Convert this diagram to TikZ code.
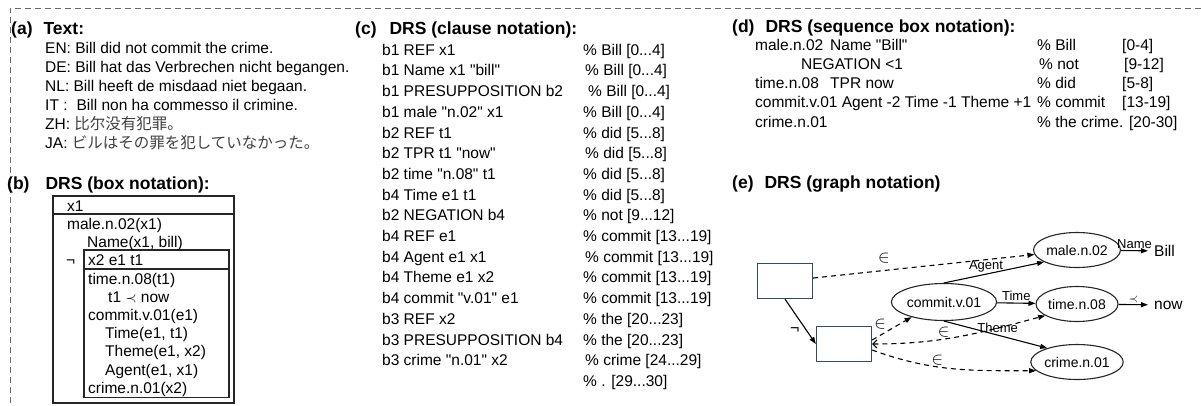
\documentclass[tikz,border=0pt]{standalone}
\usepackage{fontspec}
\setmainfont{Liberation Sans}[Ligatures=TeXOff]
\newfontfamily\zhfont{Noto Sans CJK SC}
\newfontfamily\jafont{Noto Sans CJK JP}
\usetikzlibrary{positioning,arrows.meta,shapes.geometric}
\definecolor{boxblue}{HTML}{2F4A6B}
\definecolor{framegray}{HTML}{6A6A6A}

\begin{document}
\begin{tikzpicture}[x=1pt, y=-1pt,
  head/.style={font=\fontsize{17.5}{20}\selectfont\bfseries, anchor=base west, inner sep=0pt},
  % multi-line text blocks: placed at the baseline of their first line (first line starts with \strut)
  body/.style={font=\fontsize{15.5}{#1}\selectfont, anchor=north west, yshift=0.7*#1pt,
               align=left, inner sep=0pt},
  boxline/.style={line width=1.1pt, black!85},
  frame/.style={dash pattern=on 6pt off 4pt, line width=0.9pt, framegray},
  drsbox/.style={draw=boxblue, line width=1.3pt, minimum width=55pt, minimum height=35pt, inner sep=0pt},
  concept/.style={draw=black!85, ellipse, line width=1.1pt, minimum width=82pt,
                  minimum height=35pt, inner sep=0pt, font=\fontsize{14}{16}\selectfont},
  rel/.style={-{Triangle[length=7pt,width=5pt]}, line width=1.1pt},
  member/.style={rel, dash pattern=on 5pt off 4pt},
  lab/.style={font=\fontsize{13}{15}\selectfont, inner sep=1.5pt},
  elem/.style={font=\fontsize{16}{18}\selectfont, inner sep=1.5pt}
]
  \useasboundingbox (0,0) rectangle (1201,405);

  % --- outer dashed frame (top and left only) ---
  \draw[frame] (1201,8) -- (10,8) -- (10,405);

  % === (a) text in six languages ===
  \node[head] (titleA) at (11,34) {(a)\hspace{11pt}Text:};
  \node[body=19] (textA) at (45,53)
    {\strut EN: Bill did not commit the crime.\\
     DE: Bill hat das Verbrechen nicht begangen.\\
     NL: Bill heeft de misdaad niet begaan.\\
     IT :\hspace{9pt}Bill non ha commesso il crimine.\\
     ZH: {\zhfont\color{black!75}比尔没有犯罪。}\\
     JA: {\jafont\color{black!75}ビルはその罪を犯していなかった。}};

  % === (b) box notation ===
  \node[head] (titleB) at (7,189) {(b)\hspace{16pt}DRS (box notation):};
  \draw[boxline] (53,196) rectangle (234,403);
  \draw[boxline] (53,214) -- (234,214);
  \draw[boxline] (84,250) rectangle (229,397.5);
  \draw[boxline] (84,269) -- (229,269);
  \node[body=18.2] (outerB) at (67,211)
    {\strut x1\\ male.n.02(x1)\\ \hspace{20pt}Name(x1, bill)};
  \node[body=18.2] (negB) at (66,265.6) {\strut ¬};
  \node[body=18.2] (innerB) at (88,265.6)
    {\strut x2 e1 t1\\ time.n.08(t1)\\ \hspace{20pt}t1 $\prec$ now\\ commit.v.01(e1)\\
     \hspace{17pt}Time(e1, t1)\\ \hspace{17pt}Theme(e1, x2)\\ \hspace{17pt}Agent(e1, x1)\\
     crime.n.01(x2)};

  % === (c) clause notation ===
  \node[head] (titleC) at (355,34) {(c)\hspace{13pt}DRS (clause notation):};
  \node[body=20.7] (clauseC) at (382,55)
    {\strut b1 REF x1\\ b1 Name x1 "bill"\\ b1 PRESUPPOSITION b2\\ b1 male "n.02" x1\\
     b2 REF t1\\ b2 TPR t1 "now"\\ b2 time "n.08" t1\\ b4 Time e1 t1\\
     b2 NEGATION b4\\ b4 REF e1\\ b4 Agent e1 x1\\ b4 Theme e1 x2\\
     b4 commit "v.01" e1\\ b3 REF x2\\ b3 PRESUPPOSITION b4\\ b3 crime "n.01" x2};
  \node[body=20.7] (commentC) at (583,55)
    {\strut\% Bill [0...4]\\ \hspace{2pt}\% Bill [0...4]\\ \hspace{5pt}\% Bill [0...4]\\ \% Bill [0...4]\\
     \% did [5...8]\\ \hspace{2pt}\% did [5...8]\\ \% did [5...8]\\ \% did [5...8]\\
     \% not [9...12]\\ \% commit [13...19]\\ \hspace{2pt}\% commit [13...19]\\
     \% commit [13...19]\\ \% commit [13...19]\\ \% the [20...23]\\ \% the [20...23]\\
     \hspace{2pt}\% crime [24...29]\\ \% . [29...30]};

  % === (d) sequence box notation ===
  \node[head] (titleD) at (732,32) {(d)\hspace{11pt}DRS (sequence box notation):};
  \node[body=19.2] (seqD) at (755,50)
    {\strut\makebox[75pt][l]{male.n.02}Name "Bill"\\ \hspace{46pt}NEGATION <1\\
     \makebox[75pt][l]{time.n.08}TPR now\\ commit.v.01 Agent -2 Time -1 Theme +1\\ crime.n.01};
  \node[body=19.2] (commentD) at (1037,50)
    {\strut\% Bill\\ \hspace{2pt}\% not\\ \% did\\ \% commit\\ \% the crime. [20-30]};
  \node[body=19.2] (spanD) at (1122,50)
    {\strut[0-4]\\ \hspace{2pt}[9-12]\\ {[}5-8]\\ {[}13-19]};

  % === (e) graph notation ===
  \node[head] (titleE) at (732,188) {(e)\hspace{11pt}DRS (graph notation)};

  \node[drsbox] (drs1) at (785,281) {};
  \node[drsbox] (drs2) at (844,344) {};
  \node[concept, minimum width=89pt, minimum height=37pt] (commit) at (944,302) {commit.v.01};
  \node[concept] (male)  at (1077,250) {male.n.02};
  \node[concept] (time)  at (1077,304) {time.n.08};
  \node[concept] (crime) at (1077,362) {crime.n.01};
  \node[font=\fontsize{15.5}{17}\selectfont, anchor=west, inner sep=6pt] (bill) at (1148,251) {Bill};
  \node[font=\fontsize{15.5}{17}\selectfont, anchor=west, inner sep=6pt] (now)  at (1148,305) {now};

  % --- role edges ---
  \draw[rel] (male) -- node[lab, above] {Name} (bill);
  \draw[rel] (time) -- node[lab, above] {$\prec$} (now);
  \draw[rel] (commit.north) -- node[lab, above, pos=0.42] {Agent} (male.200);
  \draw[rel] (commit) -- node[lab, above] {Time} (time);
  \draw[rel] (commit.south) -- node[lab, above, pos=0.52] {Theme} (crime.155);
  \draw[rel] (drs1.south) -- node[elem, left, pos=0.7, xshift=-5pt] {¬} (drs2.west);

  % --- membership edges (dashed) ---
  \draw[member] (drs1) -- node[elem, above, pos=0.32, yshift=5pt] {$\in$} (male);
  \draw[member] ([yshift=4pt]drs2.east) -- node[elem, above left, pos=0.4] {$\in$} (commit.205);
  \draw[member, {Straight Barb[length=4pt,width=8pt]}-{Triangle[length=7pt,width=5pt]}]
    (drs2.east) to[out=0, in=195] node[elem, above, pos=0.4] {$\in$} (time.200);
  \draw[member] ([yshift=-6pt]drs2.east) to[out=-20, in=180]
    node[elem, above, pos=0.4] {$\in$} (crime.192);

\end{tikzpicture}
\end{document}
